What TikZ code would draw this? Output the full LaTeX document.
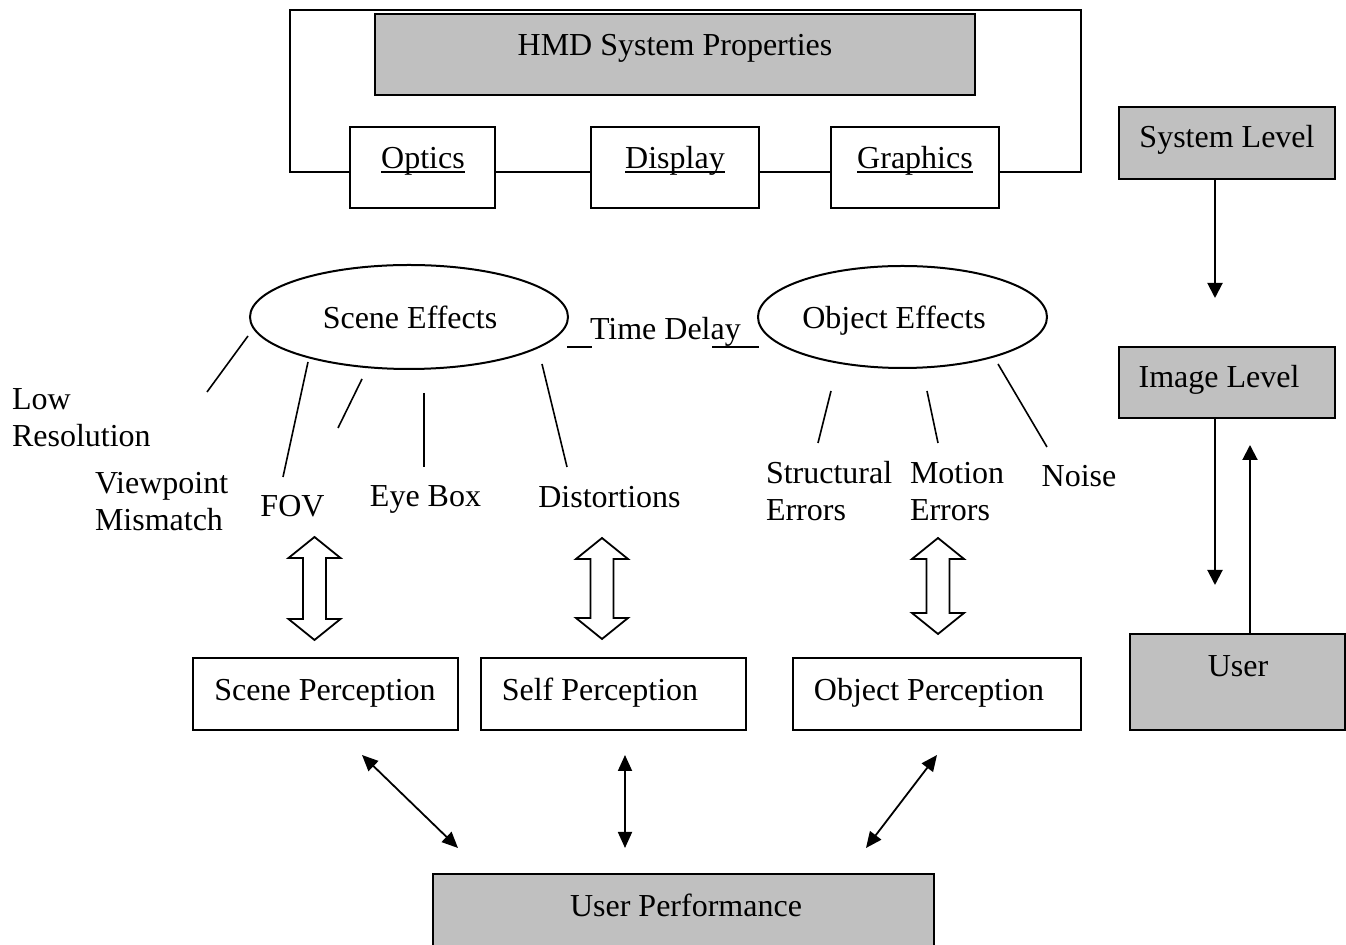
\documentclass[tikz,border=0pt]{standalone}
\usepackage{fontspec}
\setmainfont{Liberation Serif}
\usetikzlibrary{arrows.meta,shapes.geometric}
\definecolor{boxgray}{HTML}{C0C0C0}
\tikzset{
  pics/hollow arrow/.style={code={
    \draw[hollow] (0,0) -- (26,21) -- (11.5,21) -- (11.5,#1-21) -- (26,#1-21)
      -- (0,#1) -- (-26,#1-21) -- (-11.5,#1-21) -- (-11.5,21) -- (-26,21) -- cycle;}}
}
\begin{document}
\begin{tikzpicture}[x=0.5pt,y=-0.5pt,
  every node/.style={font=\fontsize{16}{18.5}\selectfont},
  box/.style={draw,line width=1pt,fill=white,inner sep=0pt,outer sep=0pt},
  graybox/.style={box,fill=boxgray},
  lbl/.style={inner sep=0pt,outer sep=0pt,anchor=base},
  oval/.style={ellipse,draw,line width=1pt,inner sep=0pt},
  stub/.style={line width=0.8pt},
  flow/.style={line width=1pt,-{Triangle[length=7.5pt,width=7.5pt]}},
  twoway/.style={line width=0.9pt,{Triangle[length=8pt,width=7pt]}-{Triangle[length=8pt,width=7pt]}},
  hollow/.style={line width=0.9pt,fill=white,line join=miter}
]
\useasboundingbox (0,0) rectangle (1346,945);

% ---- system properties frame ----
\coordinate (fl) at (290,172);
\coordinate (fr) at (1081,172);
\node[graybox,minimum width=300pt,minimum height=40.5pt] (hmd) at (675,54.5) {};
\node[lbl] (hmd-t) at (675,56) {HMD System Properties};
\node[box,minimum width=72.5pt,minimum height=40.5pt] (opt) at (422.5,167.5) {};
\node[box,minimum width=84pt,minimum height=40.5pt] (disp) at (675,167.5) {};
\node[box,minimum width=84pt,minimum height=40.5pt] (gfx) at (915,167.5) {};
\node[lbl] (opt-t) at (423,169) {Optics};
\node[lbl] (disp-t) at (675,169) {Display};
\node[lbl] (gfx-t) at (915,169) {Graphics};
\foreach \t in {opt-t,disp-t,gfx-t}
  \draw[stub] ([yshift=-1.5pt]\t.base west) -- ([yshift=-1.5pt]\t.base east);
\draw[line width=1pt] (opt.west |- fl) -- (fl) -- (290,10) -- (1081,10) -- (fr) -- (gfx.east |- fr);
\draw[line width=1pt] (opt.east |- fl) -- (disp.west |- fl);
\draw[line width=1pt] (disp.east |- fl) -- (gfx.west |- fl);

% ---- level chain on the right ----
\node[graybox,minimum width=108pt,minimum height=36pt] (sys) at (1227,143) {};
\node[lbl] (sys-t) at (1227,148) {System Level};
\node[graybox,minimum width=108pt,minimum height=35.5pt] (img) at (1227,382.5) {};
\node[lbl] (img-t) at (1219,388) {Image Level};
\node[graybox,minimum width=107.5pt,minimum height=48pt] (usr) at (1237.5,682) {};
\node[lbl] (usr-t) at (1238,677) {User};
\coordinate (ar1) at (1215,298);
\coordinate (ar2) at (1215,585);
\coordinate (ar3) at (1250,445);
\draw[flow] ([xshift=-6pt]sys.south) -- (ar1);
\draw[flow] ([xshift=-6pt]img.south) -- (ar2);
\draw[flow] ([xshift=6.25pt]usr.north) -- (ar3);

% ---- effects ----
\node[oval,minimum width=159pt,minimum height=52pt] (se) at (409,317) {};
\node[lbl] (se-t) at (410,329) {Scene Effects};
\node[oval,minimum width=144.5pt,minimum height=51pt] (oe) at (902.5,317) {};
\node[lbl] (oe-t) at (894,329) {Object Effects};
\node[lbl,anchor=base west] (td) at (590,340) {Time Delay};
\draw[stub] (567,347) -- (592,347);
\draw[stub] (712,347) -- (759,347);

\node[lbl,anchor=base west] (low) at (12,410) {Low};
\node[lbl,anchor=base west] (res) at (12,447) {Resolution};
\node[lbl,anchor=base west] (vp) at (95,494) {Viewpoint};
\node[lbl,anchor=base west] (mm) at (95,531) {Mismatch};
\node[lbl] (fov) at (292.5,517) {FOV};
\node[lbl] (eye) at (425.5,507) {Eye Box};
\node[lbl] (dist) at (609.5,508) {Distortions};
\node[lbl,anchor=base west] (str1) at (766,484) {Structural};
\node[lbl,anchor=base west] (str2) at (766,521) {Errors};
\node[lbl,anchor=base west] (mot1) at (910,484) {Motion};
\node[lbl,anchor=base west] (mot2) at (910,521) {Errors};
\node[lbl] (noise) at (1079,487) {Noise};

% short strokes between the ovals and their labels
\draw[stub] (248,336) -- (207,392);
\draw[stub] (308,362) -- (283,477);
\draw[stub] (362,379) -- (338,428);
\draw[stub] (424,393) -- (424,467);
\draw[stub] (542,364) -- (567,467);
\draw[stub] (831,391) -- (818,443);
\draw[stub] (927,391) -- (938,443);
\draw[stub] (998,364) -- (1047,447);

% ---- hollow double arrows ----
\pic at (314.5,537) {hollow arrow=103};
\pic at (602,538) {hollow arrow=101};
\pic at (938,538) {hollow arrow=96};

% ---- perception boxes ----
\node[box,minimum width=132.5pt,minimum height=36pt] (sp) at (325.5,694) {};
\node[lbl] (sp-t) at (325,701) {Scene Perception};
\node[box,minimum width=132.5pt,minimum height=36pt] (slp) at (613.5,694) {};
\node[lbl] (slp-t) at (600,701) {Self Perception};
\node[box,minimum width=144pt,minimum height=36pt] (op) at (937,694) {};
\node[lbl] (op-t) at (929,701) {Object Perception};

\node[graybox,minimum width=250.5pt,minimum height=38pt] (up) at (683.5,912) {};
\node[lbl] (up-t) at (686,917) {User Performance};

\coordinate (b1a) at (362,755);
\coordinate (b1b) at (458,848);
\coordinate (b2a) at (625,755);
\coordinate (b2b) at (625,848);
\coordinate (b3a) at (937,755);
\coordinate (b3b) at (866,848);
\draw[twoway] (b1a) -- (b1b);
\draw[twoway] (b2a) -- (b2b);
\draw[twoway] (b3a) -- (b3b);
\end{tikzpicture}
\end{document}
